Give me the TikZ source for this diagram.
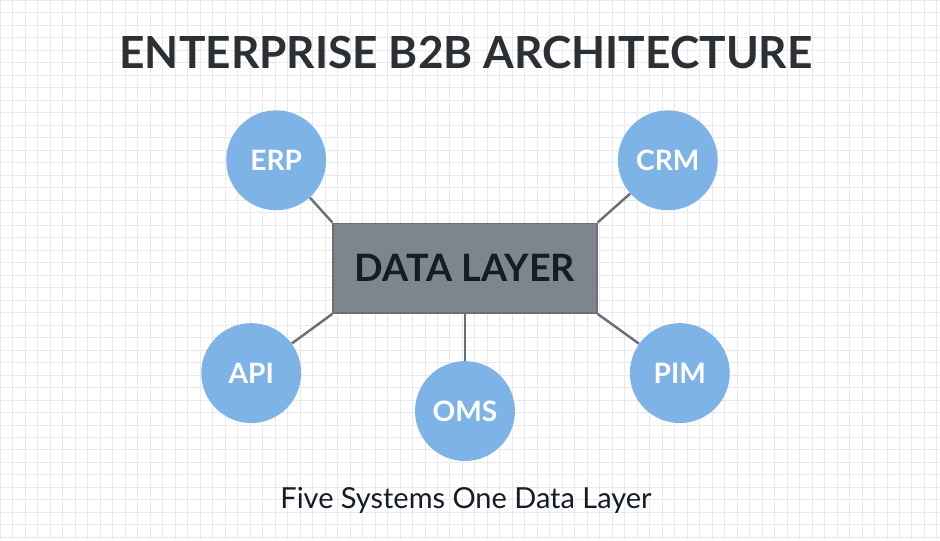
\documentclass[tikz,border=0pt]{standalone}
\usepackage{fontspec}
\setmainfont{Lato}
\usetikzlibrary{positioning}

\definecolor{sysblue}{HTML}{7DB3E6}
\definecolor{layergray}{HTML}{7E858D}
\definecolor{linkgray}{HTML}{6B7075}
\definecolor{titleink}{HTML}{2B3035}
\definecolor{navyink}{HTML}{141C28}
\definecolor{gridgray}{HTML}{E9E9EC}

\begin{document}
\begin{tikzpicture}[
  x=0.02cm, y=-0.02cm,
  sys/.style={circle, fill=sysblue, minimum size=2cm, inner sep=0pt,
              text=white, font=\fontsize{16}{19}\selectfont\bfseries},
  layer/.style={draw=linkgray, fill=layergray, line width=0.8pt,
                minimum width=5.28cm, minimum height=1.8cm, inner sep=0pt,
                text=navyink, font=\fontsize{21.5}{25}\selectfont\bfseries},
  link/.style={draw=linkgray, line width=1.4pt},
  ttl/.style={anchor=base, inner sep=0pt, text=titleink,
              font=\fontsize{25.2}{30}\selectfont\bfseries},
  sub/.style={anchor=base, inner sep=0pt, text=navyink,
              font=\fontsize{16.5}{20}\selectfont},
]
% paper
\fill[white] (0,0) rectangle (940,540);
\draw[gridgray, line width=0.5pt, step=0.25cm] (0,0) grid (940,540);
\useasboundingbox (0,0) rectangle (940,540);

\node[ttl] (title) at (466,68) {ENTERPRISE B2B ARCHITECTURE};

\node[layer] (data) at (465,268) {DATA LAYER};

\node[sys] (erp) at (276,160) {ERP};
\node[sys] (crm) at (668,160) {CRM};
\node[sys] (api) at (251,373) {API};
\node[sys] (oms) at (465,411) {OMS};
\node[sys] (pim) at (680,373) {PIM};

\draw[link] (erp) -- (data.north west);
\draw[link] (crm) -- (data.north east);
\draw[link] (api) -- (data.south west);
\draw[link] (data.south) -- (oms);
\draw[link] (pim) -- (data.south east);

\node[sub] (caption) at (466,509) {Five Systems One Data Layer};
\end{tikzpicture}
\end{document}
